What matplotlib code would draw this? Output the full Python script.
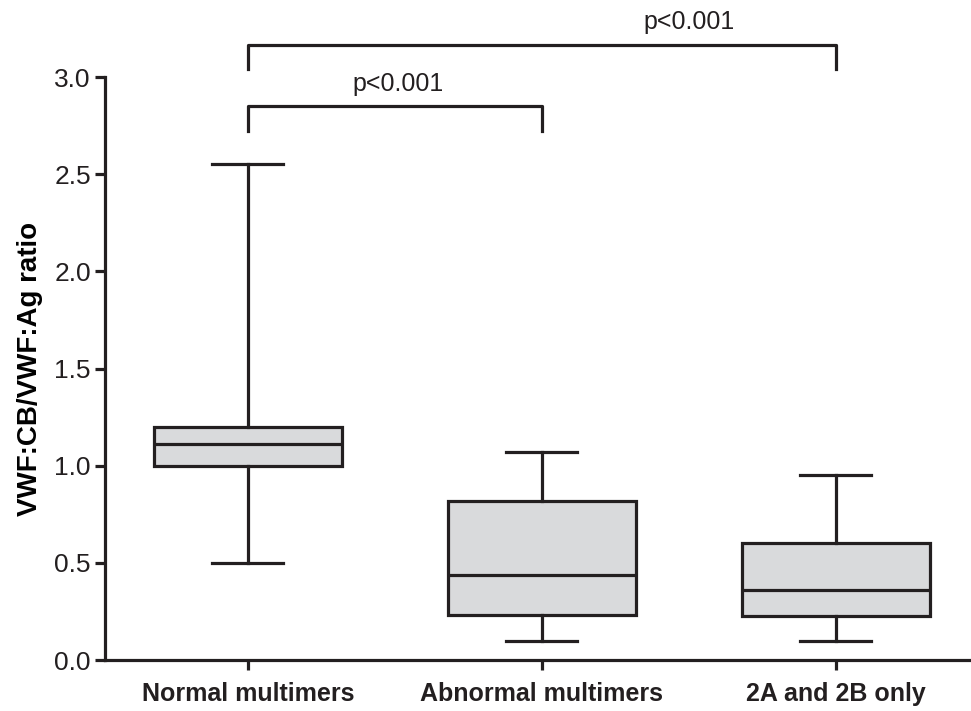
import matplotlib
matplotlib.use('Agg')
import matplotlib.pyplot as plt

plt.rcParams['font.family'] = ['Liberation Sans', 'DejaVu Sans']

groups = ['Normal multimers', 'Abnormal multimers', '2A and 2B only']
whis_low = [0.50, 0.10, 0.10]
q1 = [1.00, 0.23, 0.225]
median = [1.11, 0.44, 0.36]
q3 = [1.20, 0.82, 0.60]
whis_high = [2.55, 1.07, 0.95]

yticks = [0.0, 0.5, 1.0, 1.5, 2.0, 2.5, 3.0]

lw = 2.3
fig = plt.figure(figsize=(9.71, 7.11), dpi=100)
ax = fig.add_axes([0.108, 0.0717, 0.892, 0.82])

stats = []
for i, g in enumerate(groups):
    stats.append({'label': g, 'whislo': whis_low[i], 'q1': q1[i], 'med': median[i],
                  'q3': q3[i], 'whishi': whis_high[i], 'fliers': []})

ax.bxp(stats, positions=[1, 2, 3], widths=0.64, patch_artist=True, showfliers=False,
       boxprops=dict(facecolor='#d9dadc', edgecolor='#231f20', linewidth=lw),
       medianprops=dict(color='#231f20', linewidth=lw),
       whiskerprops=dict(color='#231f20', linewidth=lw),
       capprops=dict(color='#231f20', linewidth=lw),
       capwidths=0.24)

ax.set_xlim(0.514, 3.46)
ax.set_ylim(0, 3.0)
ax.set_yticks(yticks)
ax.set_yticklabels(['%.1f' % v for v in yticks], fontsize=19)
ax.set_xticks([1, 2, 3])
ax.set_xticklabels(groups, fontsize=18, fontweight='bold')
ax.set_ylabel('VWF:CB/VWF:Ag ratio', fontsize=20, fontweight='bold', labelpad=8)

for s in ['top', 'right']:
    ax.spines[s].set_visible(False)
for s in ['left', 'bottom']:
    ax.spines[s].set_linewidth(lw)
    ax.spines[s].set_color('#231f20')
ax.tick_params(axis='both', width=lw, length=7, color='#231f20', labelcolor='#231f20')
ax.tick_params(axis='x', pad=9)
ax.tick_params(axis='y', pad=3)

# significance brackets
k = '#231f20'
ax.plot([1, 1, 3, 3], [3.04, 3.165, 3.165, 3.04], color=k, lw=lw, clip_on=False)
ax.text(2.50, 3.22, 'p<0.001', ha='center', va='bottom', fontsize=18, color=k)
ax.plot([1, 1, 2, 2], [2.72, 2.85, 2.85, 2.72], color=k, lw=lw, clip_on=False)
ax.text(1.51, 2.90, 'p<0.001', ha='center', va='bottom', fontsize=18, color=k)

plt.savefig('out.png', dpi=100)
